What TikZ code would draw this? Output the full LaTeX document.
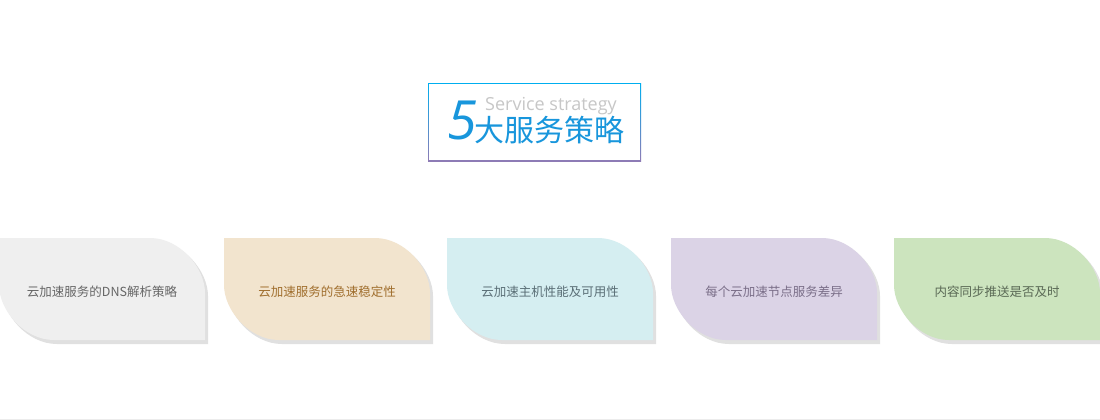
\documentclass[tikz,border=0pt]{standalone}
\usepackage{fontspec}
\newfontfamily\cjk{Noto Sans CJK SC}
\newfontfamily\lat{Open Sans}
\begin{document}
\begin{tikzpicture}[x=1pt,y=-1pt,
  cardtext/.style={font=\cjk\fontsize{12.5}{14}\selectfont,anchor=center,inner sep=0}]
\useasboundingbox (0,0) rectangle (1100,420);
\fill[white] (0,0) rectangle (1100,420);
\draw[gray!15] (0,419) -- (1100,419);
% title frame
\shade[top color={rgb,255:red,0;green,174;blue,239},bottom color={rgb,255:red,142;green,123;blue,181}] (428,83) rectangle (641,161);
\fill[white] (429,84) rectangle (640,160);
\node[font=\lat\fontsize{54}{54}\selectfont\itshape,text={rgb,255:red,24;green,150;blue,220},inner sep=0] (five) at (462,120) {5};
\node[font=\lat\fontsize{18}{18}\selectfont,text=black!22,inner sep=0,anchor=base west] (en) at (485,110) {Service strategy};
\node[font=\cjk\fontsize{30}{30}\selectfont,text={rgb,255:red,24;green,150;blue,220},inner sep=0,anchor=west] (zh) at (474,130) {大服务策略};
\newcommand{\leaf}[5]{%
  \fill[black!12] ({#1+3},241) -- ({#1+206-55+3},241) .. controls ({#1+206-25+3},241) and ({#1+206+3},{241+30}) .. ({#1+206+3},{241+55}) -- ({#1+206+3},344) -- ({#1+55+3},344) .. controls ({#1+25+3},344) and ({#1+3},{344-30}) .. ({#1+3},{344-55}) -- cycle;
  \fill[#2] (#1,238) -- ({#1+206-55},238) .. controls ({#1+206-25},238) and ({#1+206},{238+30}) .. ({#1+206},{238+55}) -- ({#1+206},340) -- ({#1+55},340) .. controls ({#1+25},340) and (#1,{340-30}) .. (#1,{340-55}) -- cycle;
  \node[cardtext,text=#3] (#5) at ({#1+103},292) {#4};}
\definecolor{c1}{RGB}{239,239,239}\definecolor{t1}{RGB}{102,102,102}
\definecolor{c2}{RGB}{242,228,206}\definecolor{t2}{RGB}{160,110,45}
\definecolor{c3}{RGB}{213,238,241}\definecolor{t3}{RGB}{90,110,118}
\definecolor{c4}{RGB}{219,211,230}\definecolor{t4}{RGB}{122,110,136}
\definecolor{c5}{RGB}{204,228,190}\definecolor{t5}{RGB}{90,105,85}
\leaf{-1}{c1}{t1}{云加速服务的DNS解析策略}{s1}
\leaf{224}{c2}{t2}{云加速服务的急速稳定性}{s2}
\leaf{447}{c3}{t3}{云加速主机性能及可用性}{s3}
\leaf{671}{c4}{t4}{每个云加速节点服务差异}{s4}
\leaf{894}{c5}{t5}{内容同步推送是否及时}{s5}
\end{tikzpicture}
\end{document}
